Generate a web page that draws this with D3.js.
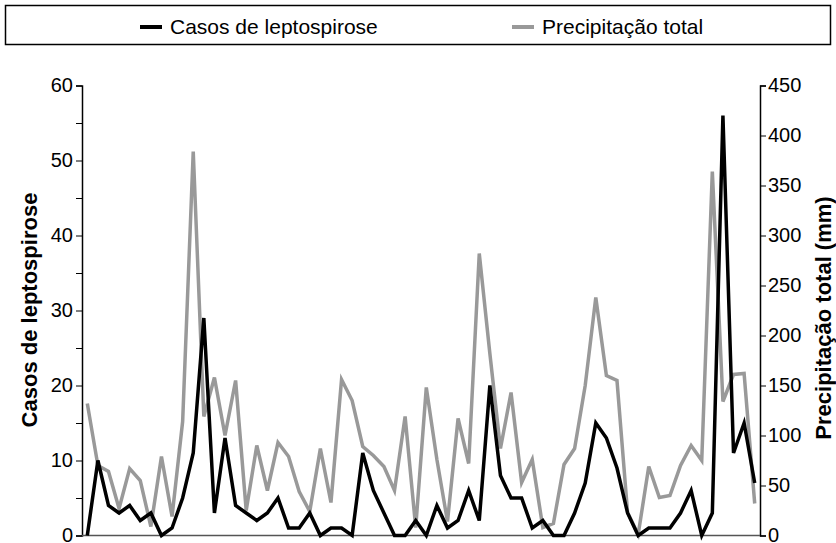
<!DOCTYPE html>
<html>
<head>
<meta charset="utf-8">
<script src="https://cdn.jsdelivr.net/npm/d3@7"></script>
<style>
  body { margin: 0; background: #fff; }
  svg { font-family: "Liberation Sans", Arial, sans-serif; }
  .axis path, .axis line { stroke: #000; }
  .axis text { font-size: 20px; fill: #000; }
</style>
</head>
<body>
<div id="chart"></div>
<script>
// monthly series
var casos = [0, 10, 4, 3, 4, 2, 3, 0, 1, 5, 11, 29, 3, 13, 4, 3, 2, 3, 5, 1,
             1, 3, 0, 1, 1, 0, 11, 6, 3, 0, 0, 2, 0, 4, 1, 2, 6, 2, 20, 8,
             5, 5, 1, 2, 0, 0, 3, 7, 15, 13, 9, 3, 0, 1, 1, 1, 3, 6, 0, 3,
             56, 11, 15, 7];
var precip = [132, 70, 64, 27, 67, 55, 9, 79, 19, 114, 384, 119, 158, 100, 155, 25, 90, 45, 93, 79,
              44, 24, 87, 33, 156, 135, 89, 80, 69, 45, 119, 8, 148, 76, 14, 117, 72, 282, 182, 87,
              143, 53, 76, 8, 12, 71, 87, 150, 238, 160, 155, 23, 1, 69, 38, 40, 70, 90, 75, 364,
              134, 161, 162, 32];
var leftTicks = [0, 5, 10, 15, 20, 25, 30, 35, 40, 45, 50, 55, 60];
var rightTicks = [0, 50, 100, 150, 200, 250, 300, 350, 400, 450];
var seriesNames = ["Casos de leptospirose", "Precipitação total"];
var seriesColors = ["#000000", "#999999"];

var svg = d3.select("#chart").append("svg").attr("width", 836).attr("height", 543),
    plot = {left: 82, right: 760, top: 85.5, bottom: 535.5};

var x = d3.scalePoint()
    .domain(d3.range(casos.length))
    .range([plot.left, plot.right])
    .padding(0.5);
var yL = d3.scaleLinear().domain([0, 60]).range([plot.bottom, plot.top]);
var yR = d3.scaleLinear().domain([0, 450]).range([plot.bottom, plot.top]);

// legend box
svg.append("rect")
    .attr("x", 5.5).attr("y", 5.5)
    .attr("width", 825).attr("height", 39)
    .attr("fill", "none").attr("stroke", "#000").attr("stroke-width", 1.5);

var legX = [140, 512];
seriesNames.forEach(function(name, i) {
  svg.append("line")
      .attr("x1", legX[i]).attr("x2", legX[i] + 22)
      .attr("y1", 27).attr("y2", 27)
      .attr("stroke", seriesColors[i]).attr("stroke-width", 4);
  svg.append("text")
      .attr("x", legX[i] + 30).attr("y", 34)
      .attr("font-size", 21)
      .text(name);
});

// axes
svg.append("g")
    .attr("class", "axis")
    .attr("transform", "translate(" + plot.left + ",0)")
    .call(d3.axisLeft(yL).tickValues(leftTicks).tickSizeOuter(0).tickSize(6).tickPadding(3)
      .tickFormat(function(d) { return d % 10 === 0 ? d : ""; }))
    .call(function(g) { g.select(".domain").attr("stroke-width", 1.5); });

svg.append("g")
    .attr("class", "axis")
    .attr("transform", "translate(" + plot.right + ",0)")
    .call(d3.axisRight(yR).tickValues(rightTicks).tickSizeOuter(0).tickSize(6).tickPadding(2))
    .call(function(g) { g.select(".domain").attr("stroke-width", 1.5); });

svg.append("line")
    .attr("x1", plot.left).attr("x2", plot.right)
    .attr("y1", plot.bottom).attr("y2", plot.bottom)
    .attr("stroke", "#555").attr("stroke-width", 1.5);

// axis titles
svg.append("text")
    .attr("transform", "translate(37,310) rotate(-90)")
    .attr("text-anchor", "middle")
    .attr("font-size", 22).attr("font-weight", "bold")
    .text("Casos de leptospirose");

svg.append("text")
    .attr("transform", "translate(831,318) rotate(-90)")
    .attr("text-anchor", "middle")
    .attr("font-size", 22).attr("font-weight", "bold")
    .text("Precipitação total (mm)");

// lines
var linePrecip = d3.line()
    .x(function(d, i) { return x(i); })
    .y(function(d) { return yR(d); });
var lineCasos = d3.line()
    .x(function(d, i) { return x(i); })
    .y(function(d) { return yL(d); });

svg.append("path")
    .datum(precip)
    .attr("fill", "none")
    .attr("stroke", seriesColors[1])
    .attr("stroke-width", 3.5)
    .attr("d", linePrecip);

svg.append("path")
    .datum(casos)
    .attr("fill", "none")
    .attr("stroke", seriesColors[0])
    .attr("stroke-width", 3.5)
    .attr("d", lineCasos);
</script>
</body>
</html>
